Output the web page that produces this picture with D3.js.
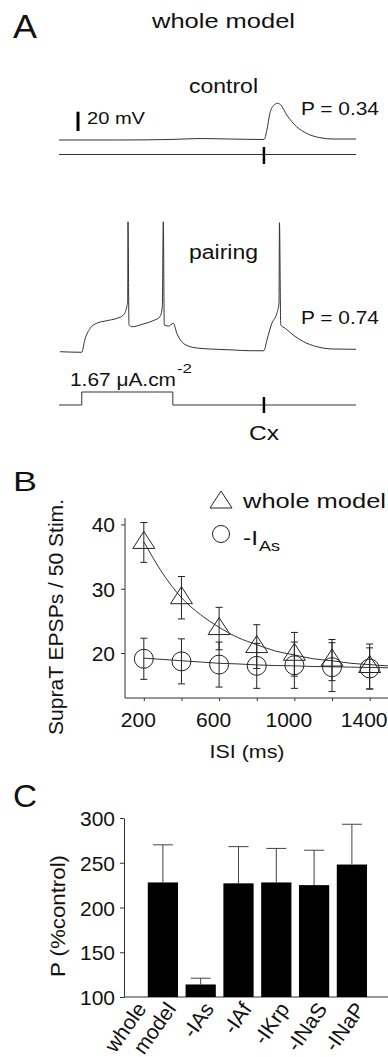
<!DOCTYPE html>
<html>
<head>
<meta charset="utf-8">
<title>whole model</title>
<script src="https://cdn.jsdelivr.net/npm/d3@7"></script>
<style>
  html, body { margin: 0; padding: 0; background: #fff; }
  svg { display: block; }
  text { font-family: "Liberation Sans", Arial, Helvetica, sans-serif; fill: #111; }
</style>
</head>
<body>
<div id="fig"></div>
<script>
// ---- panel A : voltage traces (time in ms, V in mV)
var controlT = [0, 123, 224, 285, 345, 414, 420, 426, 433, 442, 448, 460, 480, 500, 527, 554, 600];
var controlV = [-70.5, -70.5, -70, -69, -69.5, -70, -60.2, -42.8, -35, -32.5, -34.2, -44.5, -56.7, -63.6, -68.1, -69.5, -69.5];

var pairingT = [2, 46, 52, 63, 76, 96, 117, 130, 137, 138.8, 139.4, 141.4, 147, 170, 190, 204, 208.7, 210.7, 212.7, 221, 231, 238, 248, 265, 285, 319, 352, 386, 414, 420, 430, 440, 444.4, 445.4, 448, 457, 473, 494, 521, 554, 600];
var pairingV = [-69.7, -70.3, -57.6, -45.4, -40.3, -37.6, -35.1, -31.7, -23.1, -16.1, 65, -42, -43.8, -41, -37.6, -33.4, -23.1, 65, -42, -43.1, -40.3, -50.6, -59.3, -64.5, -66.2, -67.2, -67.9, -68.7, -68.7, -57.6, -40.3, -29.9, -19.5, 64, -42, -45.4, -52.4, -59.3, -64.5, -66.9, -67.2];

var stepT = [0, 46, 46, 230, 230, 600];
var stepI = [0, 0, 1.67, 1.67, 0, 0];
var stimT = 414;

// ---- panel B : supra-threshold EPSPs vs ISI
var isi = [200, 400, 600, 800, 1000, 1200, 1400];
var wholeMean = [37.2, 28.6, 23.8, 21.0, 19.8, 18.9, 17.9];
var wholeErr = [3.1, 3.3, 3.3, 3.4, 3.4, 3.2, 3.5];
var iasMean = [19.1, 18.7, 18.2, 18.0, 18.1, 17.8, 17.6];
var iasErr = [3.2, 3.5, 3.5, 3.5, 3.6, 3.8, 3.2];
var fitIsi = [200, 300, 400, 500, 600, 700, 800, 900, 1000, 1100, 1200, 1300, 1400, 1500, 1560];
var fitWhole = [37.3, 32.4, 28.6, 26.0, 24.0, 22.4, 21.3, 20.3, 19.7, 19.1, 18.8, 18.4, 18.2, 18.0, 18.0];
var fitIas = [19.2, 19.0, 18.8, 18.6, 18.4, 18.3, 18.15, 18.05, 18.0, 17.9, 17.85, 17.8, 17.75, 17.7, 17.7];
var isiTicks = [200, 400, 600, 800, 1000, 1200, 1400];
var isiLabels = [200, 600, 1000, 1400];
var eppTicks = [20, 30, 40];

// ---- panel C : potentiation per condition
var conds = ["whole model", "-IAs", "-IAf", "-IKrp", "-INaS", "-INaP"];
var pMean = [228, 114, 227, 228, 225, 248];
var pErr = [42, 7, 41, 38, 39, 45];
var pTicks = [100, 150, 200, 250, 300];

var W = 388, H = 1057;
var svg = d3.select("#fig").append("svg").attr("width", W).attr("height", H);

// text helper, width forced to what the figure shows
function label(g, x, y, str, size, len, anchor) {
  var t = g.append("text").attr("x", x).attr("y", y).attr("font-size", size)
    .attr("text-anchor", anchor || "start").text(str);
  if (len) t.attr("textLength", len).attr("lengthAdjust", "spacingAndGlyphs");
  return t;
}

// ================= A
var gA = svg.append("g");
label(gA, 13, 38, "A", 34, 24);
label(gA, 152, 28, "whole model", 21, 143);

var xT = d3.scaleLinear().domain([0, 600]).range([59, 356]);
var yCtl = d3.scaleLinear().domain([-70, -50]).range([139.5, 120.2]);
var yPair = d3.scaleLinear().domain([-70, -50]).range([352, 332.7]);
var yI = d3.scaleLinear().domain([0, 1.67]).range([405, 392]);

var lineCtl = d3.line().x(function (d, i) { return xT(controlT[i]); })
  .y(function (d, i) { return yCtl(controlV[i]); }).curve(d3.curveMonotoneX);
var linePair = d3.line().x(function (d, i) { return xT(pairingT[i]); })
  .y(function (d, i) { return yPair(pairingV[i]); }).curve(d3.curveMonotoneX);
var lineStep = d3.line().x(function (d, i) { return xT(stepT[i]); })
  .y(function (d, i) { return yI(stepI[i]); });

gA.append("path").attr("d", lineCtl(controlT)).attr("fill", "none").attr("stroke", "#333").attr("stroke-width", 1);
gA.append("path").attr("d", linePair(pairingT)).attr("fill", "none").attr("stroke", "#333").attr("stroke-width", 1);
gA.append("path").attr("d", lineStep(stepT)).attr("fill", "none").attr("stroke", "#333").attr("stroke-width", 1);

// control stimulus line
gA.append("line").attr("x1", xT(0)).attr("x2", xT(600)).attr("y1", 154.5).attr("y2", 154.5)
  .attr("stroke", "#333").attr("stroke-width", 1);
gA.append("line").attr("x1", xT(stimT)).attr("x2", xT(stimT)).attr("y1", 147).attr("y2", 164)
  .attr("stroke", "#000").attr("stroke-width", 2.5);
gA.append("line").attr("x1", xT(stimT)).attr("x2", xT(stimT)).attr("y1", 397).attr("y2", 413)
  .attr("stroke", "#000").attr("stroke-width", 2.5);

// 20 mV scale bar
gA.append("line").attr("x1", 78).attr("x2", 78).attr("y1", yCtl(-61.2)).attr("y2", yCtl(-41.2))
  .attr("stroke", "#000").attr("stroke-width", 3);
label(gA, 87, 124, "20 mV", 16.5, 58);
label(gA, 189, 92.5, "control", 20, 69);
label(gA, 301, 115, "P = 0.34", 17.5, 78);
label(gA, 189, 258.5, "pairing", 20, 69);
label(gA, 301, 324, "P = 0.74", 17.5, 78);
label(gA, 70, 386, "1.67 \u03bcA.cm", 17.5, 106);
label(gA, 177, 373, "-2", 13, 15);
label(gA, xT(stimT), 440, "Cx", 20, 30, "middle");

// ================= B
var gB = svg.append("g");
label(gB, 13, 491, "B", 28, 24);
var xB = d3.scaleLinear().domain([100, 1600]).range([125, 407.3]);
var yB = d3.scaleLinear().domain([13, 41]).range([698, 518]);

gB.append("line").attr("x1", 125).attr("x2", W).attr("y1", 698).attr("y2", 698).attr("stroke", "#333");
gB.append("line").attr("x1", 125).attr("x2", 125).attr("y1", 518).attr("y2", 698).attr("stroke", "#333");
var axB = gB.append("g").attr("transform", "translate(0,698)")
  .call(d3.axisBottom(xB).tickValues(isiTicks).tickSize(3).tickSizeOuter(0).tickFormat(""));
axB.select(".domain").remove();
axB.selectAll("line").attr("stroke", "#333");
isiLabels.forEach(function (v) {
  label(gB, xB(v) - 5.5, 727, String(v), 21, null, "middle");
});
var ayB = gB.append("g").attr("transform", "translate(125,0)")
  .call(d3.axisLeft(yB).tickValues(eppTicks).tickSize(4).tickSizeOuter(0).tickPadding(6));
ayB.select(".domain").remove();
ayB.selectAll("line").attr("stroke", "#333");
ayB.selectAll("text").attr("font-size", 21).attr("font-family", null).attr("dy", "0.36em");
label(gB, 247, 758, "ISI (ms)", 19, 75, "middle");
label(gB, 0, 0, "SupraT EPSPs / 50 Stim.", 20, 236, "middle")
  .attr("transform", "translate(63,617) rotate(-90)");

var lineFit = function (vals) {
  return d3.line().x(function (d, i) { return xB(fitIsi[i]); })
    .y(function (d, i) { return yB(vals[i]); }).curve(d3.curveMonotoneX)(vals);
};
gB.append("path").attr("d", lineFit(fitWhole)).attr("fill", "none").attr("stroke", "#333");
gB.append("path").attr("d", lineFit(fitIas)).attr("fill", "none").attr("stroke", "#333");

function errBars(mean, err) {
  isi.forEach(function (v, i) {
    var x = xB(v), y0 = yB(mean[i] - err[i]), y1 = yB(mean[i] + err[i]);
    gB.append("line").attr("x1", x).attr("x2", x).attr("y1", y0).attr("y2", y1).attr("stroke", "#222");
    [y0, y1].forEach(function (y) {
      gB.append("line").attr("x1", x - 3.5).attr("x2", x + 3.5).attr("y1", y).attr("y2", y).attr("stroke", "#222");
    });
  });
}
errBars(wholeMean, wholeErr);
errBars(iasMean, iasErr);

var tri = "M0,-11L11,6L-11,6Z";
isi.forEach(function (v, i) {
  gB.append("path").attr("d", tri).attr("transform", "translate(" + xB(v) + "," + yB(wholeMean[i]) + ")")
    .attr("fill", "none").attr("stroke", "#222");
  gB.append("circle").attr("cx", xB(v)).attr("cy", yB(iasMean[i])).attr("r", 9.5)
    .attr("fill", "none").attr("stroke", "#222");
});

// legend
gB.append("path").attr("d", tri).attr("transform", "translate(221,502)").attr("fill", "none").attr("stroke", "#222");
gB.append("circle").attr("cx", 221).attr("cy", 534).attr("r", 8.5).attr("fill", "none").attr("stroke", "#222");
label(gB, 243, 508, "whole model", 21, 143);
label(gB, 243, 545, "-I", 21, 15);
label(gB, 259, 551, "As", 15, 21);

// ================= C
var gC = svg.append("g");
label(gC, 13, 807, "C", 31, 24);
var xC = d3.scaleBand().domain(conds).range([144, 370.8]).paddingInner(0.2).paddingOuter(0.1);
var yC = d3.scaleLinear().domain([100, 300]).range([997, 818]);

gC.append("line").attr("x1", 124).attr("x2", W).attr("y1", 997).attr("y2", 997).attr("stroke", "#333");
var ayC = gC.append("g").attr("transform", "translate(124,0)")
  .call(d3.axisLeft(yC).tickValues(pTicks).tickSize(4).tickSizeOuter(0).tickPadding(5));
ayC.select(".domain").attr("stroke", "#333");
ayC.selectAll("line").attr("stroke", "#333");
ayC.selectAll("text").attr("font-size", 21).attr("font-family", null).attr("dy", "0.36em");
label(gC, 0, 0, "P (%control)", 20, 122, "middle")
  .attr("transform", "translate(65,916) rotate(-90)");

conds.forEach(function (c, i) {
  var x = xC(c), bw = xC.bandwidth(), cx = x + bw / 2;
  gC.append("line").attr("x1", cx).attr("x2", cx).attr("y1", yC(pMean[i])).attr("y2", yC(pMean[i] + pErr[i]))
    .attr("stroke", "#444");
  gC.append("line").attr("x1", cx - 10).attr("x2", cx + 10).attr("y1", yC(pMean[i] + pErr[i])).attr("y2", yC(pMean[i] + pErr[i]))
    .attr("stroke", "#444");
  gC.append("rect").attr("x", x).attr("y", yC(pMean[i])).attr("width", bw).attr("height", 997 - yC(pMean[i]))
    .attr("fill", "#000");
  // labels run up to the right; "whole" sits left of "model"
  var lines = c.split(" ");
  var t = gC.append("text").attr("transform", "translate(" + (cx + 14) + ",1009) rotate(-55)")
    .attr("text-anchor", "end").attr("font-size", 21);
  lines.forEach(function (s, k) {
    var back = lines.length - 1 - k;
    t.append("tspan").attr("x", -17 * back).attr("y", -24.5 * back).text(s);
  });
});
</script>
</body>
</html>
